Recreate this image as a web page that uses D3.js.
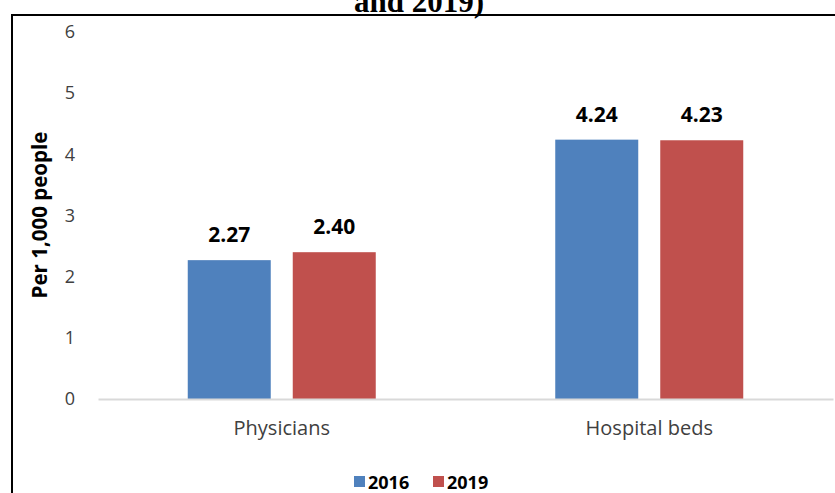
<!DOCTYPE html>
<html><head><meta charset="utf-8">
<script src="https://cdn.jsdelivr.net/npm/d3@7"></script>
<style>body{margin:0;background:#fff}svg{display:block}</style>
</head><body>
<script>
const categories = ["Physicians", "Hospital beds"];
const seriesNames = ["2016", "2019"];
const values2016 = [2.27, 4.24];
const values2019 = [2.40, 4.23];
const yTicks = [0, 1, 2, 3, 4, 5, 6];
const colors = ["#4F81BD", "#C0504D"];

const W = 835, H = 493;
const svg = d3.select("body").append("svg").attr("width", W).attr("height", H);

// title (cropped at the top in the reference)
svg.append("text").attr("x", 419).attr("y", 12).attr("text-anchor", "middle")
  .attr("font-family", "Liberation Serif").attr("font-weight", "bold").attr("font-size", 31)
  .text("and 2019)");

// border
svg.append("path").attr("d", `M12,${H} L12,15 L${W},15`)
  .attr("fill", "none").attr("stroke", "#000").attr("stroke-width", 2);

const y = d3.scaleLinear().domain([0, 6]).range([399, 32]);
const x0 = d3.scaleBand().domain(categories).range([98, 833]).paddingInner(0).paddingOuter(0);
const seriesVals = [values2016, values2019];
const barW = 83, gap = 22;

const font = "'Open Sans', sans-serif";

// y axis labels
const yAxis = d3.axisLeft(y).tickValues(yTicks).tickFormat(d3.format("d")).tickSize(0).tickPadding(0);
const gy = svg.append("g").attr("transform", "translate(75,0)").call(yAxis);
gy.select(".domain").remove();
gy.selectAll("text").attr("font-family", font).attr("font-size", 18).attr("fill", "#404040");

// bars
categories.forEach((c, i) => {
  const cx = x0(c) + x0.bandwidth() / 2;
  seriesVals.forEach((vals, s) => {
    const left = cx - gap / 2 - barW + s * (barW + gap);
    svg.append("rect").attr("x", left).attr("y", y(vals[i])).attr("width", barW)
      .attr("height", y(0) - y(vals[i])).attr("fill", colors[s]);
    svg.append("text").attr("x", left + barW / 2).attr("y", y(vals[i]) - 18)
      .attr("text-anchor", "middle").attr("font-family", font).attr("font-weight", "bold")
      .attr("font-size", 21).attr("fill", "#000").text(vals[i].toFixed(2));
  });
});

// x axis
const xAxis = d3.axisBottom(x0).tickSize(0).tickPadding(22);
const gx = svg.append("g").attr("transform", `translate(0,${y(0)})`).call(xAxis);
gx.select(".domain").attr("stroke", "#d9d9d9").attr("stroke-width", 2);
gx.selectAll("text").attr("font-family", font).attr("font-size", 20).attr("fill", "#404040");

// y title
svg.append("text").attr("transform", `translate(47,215) rotate(-90)`).attr("text-anchor", "middle")
  .attr("font-family", font).attr("font-weight", "bold").attr("font-size", 20.5).attr("fill", "#000")
  .text("Per 1,000 people");

// legend
const legX = [354, 433];
seriesNames.forEach((n, s) => {
  svg.append("rect").attr("x", legX[s]).attr("y", 476).attr("width", 11).attr("height", 11).attr("fill", colors[s]);
  svg.append("text").attr("x", legX[s] + 14).attr("y", 489).attr("font-family", font)
    .attr("font-weight", "bold").attr("font-size", 18).attr("fill", "#000").text(n);
});
</script>
</body></html>
